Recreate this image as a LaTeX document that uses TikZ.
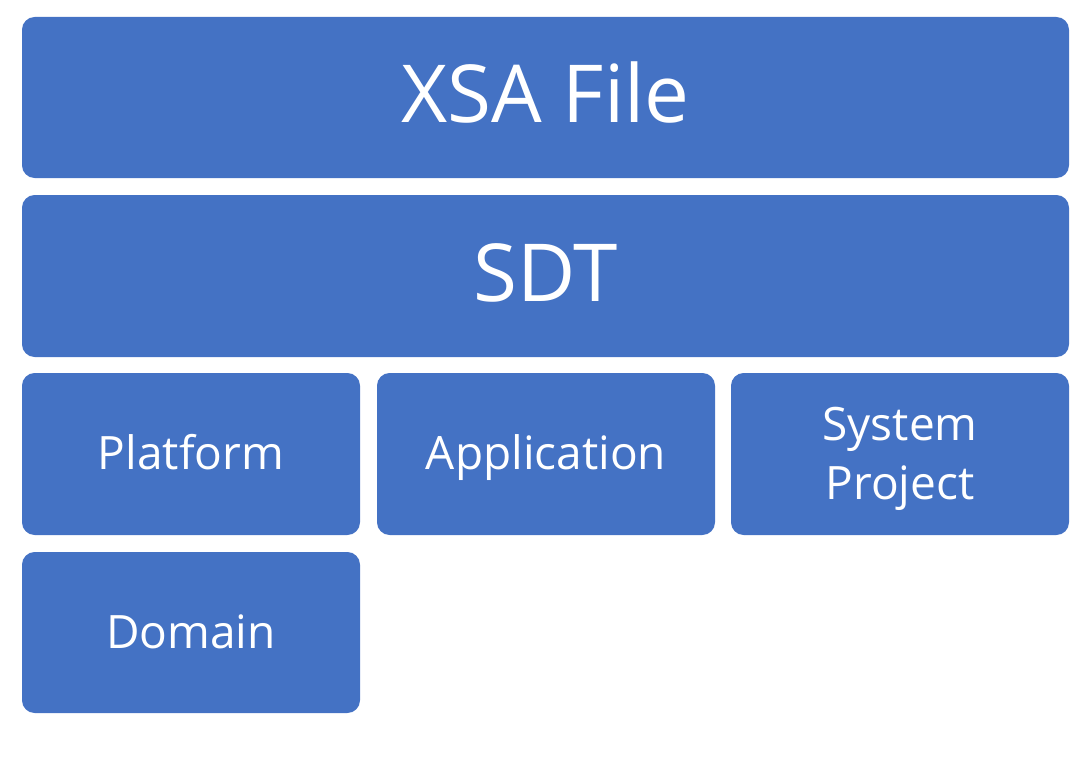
\documentclass[tikz,border=0pt]{standalone}
\usepackage{fontspec}
\setmainfont{Open Sans}
\definecolor{boxblue}{HTML}{4472C4}
\begin{document}
\begin{tikzpicture}[x=0.75pt,y=-0.75pt,
  blk/.style={fill=boxblue,draw=none,rounded corners=9.5pt},
  lbl/.style={text=white,inner sep=0pt,align=center},
  big/.style={lbl,font=\fontsize{60}{72}\selectfont},
  small/.style={lbl,font=\fontsize{34.5}{44.5}\selectfont}]
\useasboundingbox (0,0) rectangle (1091,770);
\fill[blk] (22,17) rectangle (1069,178);
\node[big,anchor=base] (xsa) at (545.5,123) {XSA File};
\fill[blk] (22,195) rectangle (1069,357);
\node[big,anchor=base] (sdt) at (545.5,301) {SDT};
\fill[blk] (22,373) rectangle (360,535);
\node[small,anchor=base] (plat) at (191,469) {Platform};
\fill[blk] (377,373) rectangle (715,535);
\node[small,anchor=base] (app) at (546,469) {Application};
\fill[blk] (731,373) rectangle (1069,535);
\node[small] (sys) at (900,459) {System\\Project};
\fill[blk] (22,552) rectangle (360,713);
\node[small,anchor=base] (dom) at (191,648) {Domain};
\end{tikzpicture}
\end{document}
